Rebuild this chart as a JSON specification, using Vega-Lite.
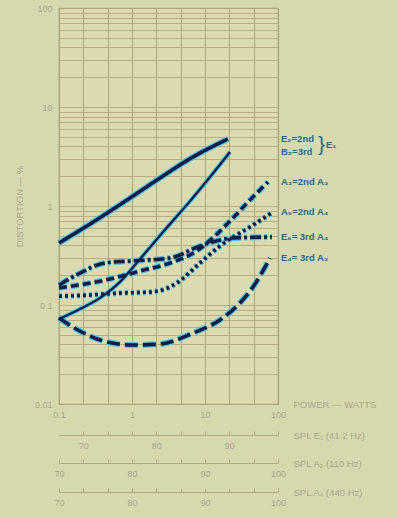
{
  "$schema": "https://vega.github.io/schema/vega-lite/v6.json",
  "width": 219,
  "height": 396,
  "autosize": {"type": "none"},
  "padding": {"left": 59, "top": 8, "right": 119, "bottom": 114},
  "background": "#d6d9ad",
  "config": {
    "view": {"fill": "#dcdbb0", "stroke": "#a29f74", "strokeWidth": 1.2},
    "font": "Liberation Sans"
  },
  "datasets": {
    "curves": [
      {"series": "E₂=2nd", "watts": 0.1, "pct": 0.423},
      {"series": "E₂=2nd", "watts": 0.266, "pct": 0.658},
      {"series": "E₂=2nd", "watts": 0.855, "pct": 1.15},
      {"series": "E₂=2nd", "watts": 2.42, "pct": 1.92},
      {"series": "E₂=2nd", "watts": 6.85, "pct": 3.13},
      {"series": "E₂=2nd", "watts": 20.6, "pct": 4.75},
      {"series": "B₂=3rd", "watts": 0.1, "pct": 0.072},
      {"series": "B₂=3rd", "watts": 0.194, "pct": 0.091},
      {"series": "B₂=3rd", "watts": 0.365, "pct": 0.118},
      {"series": "B₂=3rd", "watts": 0.686, "pct": 0.171},
      {"series": "B₂=3rd", "watts": 1.29, "pct": 0.292},
      {"series": "B₂=3rd", "watts": 2.66, "pct": 0.546},
      {"series": "B₂=3rd", "watts": 6.24, "pct": 1.12},
      {"series": "B₂=3rd", "watts": 11.7, "pct": 1.96},
      {"series": "B₂=3rd", "watts": 22.0, "pct": 3.51},
      {"series": "A₃=2nd A₃", "watts": 0.1, "pct": 0.149},
      {"series": "A₃=2nd A₃", "watts": 0.227, "pct": 0.163},
      {"series": "A₃=2nd A₃", "watts": 0.5, "pct": 0.183},
      {"series": "A₃=2nd A₃", "watts": 1.29, "pct": 0.22},
      {"series": "A₃=2nd A₃", "watts": 3.32, "pct": 0.266},
      {"series": "A₃=2nd A₃", "watts": 7.29, "pct": 0.343},
      {"series": "A₃=2nd A₃", "watts": 13.7, "pct": 0.498},
      {"series": "A₃=2nd A₃", "watts": 24.2, "pct": 0.757},
      {"series": "A₃=2nd A₃", "watts": 41.3, "pct": 1.15},
      {"series": "A₃=2nd A₃", "watts": 72.9, "pct": 1.75},
      {"series": "A₅=2nd A₄", "watts": 0.1, "pct": 0.123},
      {"series": "A₅=2nd A₄", "watts": 0.266, "pct": 0.126},
      {"series": "A₅=2nd A₄", "watts": 0.686, "pct": 0.132},
      {"series": "A₅=2nd A₄", "watts": 1.77, "pct": 0.135},
      {"series": "A₅=2nd A₄", "watts": 2.83, "pct": 0.145},
      {"series": "A₅=2nd A₄", "watts": 4.13, "pct": 0.167},
      {"series": "A₅=2nd A₄", "watts": 8.55, "pct": 0.266},
      {"series": "A₅=2nd A₄", "watts": 16.0, "pct": 0.394},
      {"series": "A₅=2nd A₄", "watts": 41.3, "pct": 0.614},
      {"series": "A₅=2nd A₄", "watts": 85.5, "pct": 0.869},
      {"series": "E₆= 3rd A₄", "watts": 0.1, "pct": 0.159},
      {"series": "E₆= 3rd A₄", "watts": 0.194, "pct": 0.21},
      {"series": "E₆= 3rd A₄", "watts": 0.427, "pct": 0.266},
      {"series": "E₆= 3rd A₄", "watts": 0.94, "pct": 0.278},
      {"series": "E₆= 3rd A₄", "watts": 3.32, "pct": 0.298},
      {"series": "E₆= 3rd A₄", "watts": 8.55, "pct": 0.394},
      {"series": "E₆= 3rd A₄", "watts": 24.2, "pct": 0.475},
      {"series": "E₆= 3rd A₄", "watts": 82.8, "pct": 0.486},
      {"series": "E₄= 3rd A₂", "watts": 0.1, "pct": 0.074},
      {"series": "E₄= 3rd A₂", "watts": 0.182, "pct": 0.0559},
      {"series": "E₄= 3rd A₂", "watts": 0.365, "pct": 0.0443},
      {"series": "E₄= 3rd A₂", "watts": 1.03, "pct": 0.0394},
      {"series": "E₄= 3rd A₂", "watts": 2.42, "pct": 0.0403},
      {"series": "E₄= 3rd A₂", "watts": 6.85, "pct": 0.0521},
      {"series": "E₄= 3rd A₂", "watts": 16.0, "pct": 0.0705},
      {"series": "E₄= 3rd A₂", "watts": 30.1, "pct": 0.105},
      {"series": "E₄= 3rd A₂", "watts": 45.5, "pct": 0.152},
      {"series": "E₄= 3rd A₂", "watts": 77.6, "pct": 0.298}
    ],
    "splE1": [{"spl": 70}, {"spl": 90}],
    "splA2": [{"spl": 70}, {"spl": 100}],
    "splA4": [{"spl": 70}, {"spl": 100}]
  },
  "layer": [
    {
      "data": {"name": "curves"},
      "encoding": {
        "x": {
          "field": "watts", "type": "quantitative",
          "scale": {"type": "log", "domain": [0.1, 100], "nice": false},
          "axis": {
            "orient": "bottom",
            "values": [0.1, 0.2154, 0.4642, 1, 2.154, 4.642, 10, 21.54, 46.42, 100],
            "labelExpr": "datum.value == 0.1 ? '0.1' : datum.value == 1 ? '1' : datum.value == 10 ? '10' : datum.value == 100 ? '100' : ''",
            "labelOverlap": false, "labelFlush": false,
            "grid": true, "gridColor": "#a8a57a", "gridOpacity": 0.9, "gridWidth": 1.1,
            "ticks": false, "domain": false,
            "labelPadding": 6, "labelFontSize": 9, "labelColor": "#a9a691",
            "title": "POWER — WATTS", "titleX": 234, "titleY": 0,
            "titleAlign": "left", "titleBaseline": "middle", "titleAngle": 0,
            "titleFontSize": 9.5, "titleFontWeight": "normal", "titleColor": "#a9a691"
          }
        },
        "y": {
          "field": "pct", "type": "quantitative",
          "scale": {"type": "log", "domain": [0.01, 100], "nice": false},
          "axis": {
            "orient": "left",
            "values": [0.01, 0.02, 0.03, 0.04, 0.05, 0.06, 0.07, 0.08, 0.09, 0.1, 0.2, 0.3, 0.4, 0.5, 0.6, 0.7, 0.8, 0.9, 1, 2, 3, 4, 5, 6, 7, 8, 9, 10, 20, 30, 40, 50, 60, 70, 80, 90, 100],
            "labelExpr": "datum.value == 0.01 ? '0.01' : datum.value == 0.1 ? '0.1' : datum.value == 1 ? '1' : datum.value == 10 ? '10' : datum.value == 100 ? '100' : ''",
            "labelOverlap": false, "labelFlush": false,
            "grid": true, "gridColor": "#b2a67c", "gridOpacity": 0.85, "gridWidth": 1,
            "ticks": false, "domain": false,
            "labelPadding": 7, "labelFontSize": 9, "labelColor": "#a9a691",
            "title": "DISTORTION — %", "titleX": -40, "titleY": 198, "titleAngle": -90,
            "titleAlign": "center", "titleBaseline": "middle",
            "titleFontSize": 9.5, "titleFontWeight": "normal", "titleColor": "#a9a691"
          }
        }
      },
      "layer": [
        {
          "transform": [{"filter": "datum.series != 'B₂=3rd'"}],
          "mark": {"type": "line", "interpolate": "monotone", "stroke": "#52c4e2", "strokeWidth": 6, "strokeCap": "butt"},
          "encoding": {
            "strokeDash": {
              "field": "series", "type": "nominal", "legend": null,
              "scale": {"domain": ["E₂=2nd", "A₃=2nd A₃", "A₅=2nd A₄", "E₆= 3rd A₄", "E₄= 3rd A₂"], "range": [[1, 0], [8, 4], [3, 3], [11, 3, 3, 3], [13, 5]]}
            }
          }
        },
        {
          "transform": [{"filter": "datum.series == 'B₂=3rd'"}],
          "mark": {"type": "line", "interpolate": "monotone", "stroke": "#52c4e2", "strokeWidth": 4.5, "strokeCap": "butt"},
          "encoding": {}
        },
        {
          "transform": [{"filter": "datum.series != 'B₂=3rd'"}],
          "mark": {"type": "line", "interpolate": "monotone", "stroke": "#0c1d47", "strokeWidth": 3.6, "strokeCap": "butt"},
          "encoding": {
            "strokeDash": {
              "field": "series", "type": "nominal", "legend": null,
              "scale": {"domain": ["E₂=2nd", "A₃=2nd A₃", "A₅=2nd A₄", "E₆= 3rd A₄", "E₄= 3rd A₂"], "range": [[1, 0], [8, 4], [3, 3], [11, 3, 3, 3], [13, 5]]}
            }
          }
        },
        {
          "transform": [{"filter": "datum.series == 'B₂=3rd'"}],
          "mark": {"type": "line", "interpolate": "monotone", "stroke": "#0c1d47", "strokeWidth": 2.3, "strokeCap": "butt"},
          "encoding": {}
        },
        {
          "transform": [
            {"joinaggregate": [{"op": "max", "field": "watts", "as": "maxw"}], "groupby": ["series"]},
            {"filter": "datum.watts == datum.maxw"}
          ],
          "mark": {"type": "text", "align": "left", "baseline": "middle", "dx": 3, "font": "Liberation Sans", "fontWeight": "bold", "fontSize": 9.5, "fill": "#1d6b90"},
          "encoding": {
            "x": {"datum": 100, "type": "quantitative"},
            "text": {"field": "series"}
          }
        },
        {
          "transform": [
            {"joinaggregate": [{"op": "max", "field": "watts", "as": "maxw"}], "groupby": ["series"]},
            {"filter": "datum.watts == datum.maxw"},
            {"filter": "datum.series == 'E₂=2nd' || datum.series == 'B₂=3rd'"},
            {"joinaggregate": [{"op": "mean", "field": "pct", "as": "mp"}]},
            {"filter": "datum.series == 'E₂=2nd'"}
          ],
          "mark": {"type": "text", "align": "left", "baseline": "middle", "dx": 40, "font": "Liberation Sans", "fontWeight": "normal", "fontSize": 21, "fill": "#1d6b90"},
          "encoding": {
            "x": {"datum": 100, "type": "quantitative"},
            "y": {"field": "mp", "type": "quantitative"},
            "text": {"value": "}"}
          }
        },
        {
          "transform": [
            {"joinaggregate": [{"op": "max", "field": "watts", "as": "maxw"}], "groupby": ["series"]},
            {"filter": "datum.watts == datum.maxw"},
            {"filter": "datum.series == 'E₂=2nd' || datum.series == 'B₂=3rd'"},
            {"joinaggregate": [{"op": "mean", "field": "pct", "as": "mp"}]},
            {"filter": "datum.series == 'E₂=2nd'"}
          ],
          "mark": {"type": "text", "align": "left", "baseline": "middle", "dx": 48, "font": "Liberation Sans", "fontWeight": "bold", "fontSize": 9.5, "fill": "#1d6b90"},
          "encoding": {
            "x": {"datum": 100, "type": "quantitative"},
            "y": {"field": "mp", "type": "quantitative"},
            "text": {"value": "E₁"}
          }
        }
      ]
    },
    {
      "data": {"name": "splE1"},
      "mark": {"type": "rule", "opacity": 0},
      "encoding": {
        "x": {
          "field": "spl", "type": "quantitative",
          "scale": {"domain": [66.67, 96.67], "nice": false, "zero": false},
          "axis": {
            "orient": "bottom", "offset": 31,
            "values": [70, 73.33, 76.67, 80, 83.33, 86.67, 90, 93.33, 96.67],
            "labelExpr": "datum.value % 10 == 0 ? datum.label : ''",
            "labelOverlap": false, "labelFlush": false, "grid": false,
            "domainColor": "#b0ab82", "tickColor": "#b0ab82", "tickSize": -4,
            "labelPadding": 10, "labelFontSize": 9, "labelColor": "#a9a691",
            "title": "SPL E₁ (41.2 Hz)", "titleX": 234, "titleY": 0,
            "titleAlign": "left", "titleBaseline": "middle", "titleAngle": 0,
            "titleFontSize": 9.5, "titleFontWeight": "normal", "titleColor": "#a9a691"
          }
        }
      }
    },
    {
      "data": {"name": "splA2"},
      "mark": {"type": "rule", "opacity": 0},
      "encoding": {
        "x": {
          "field": "spl", "type": "quantitative",
          "scale": {"domain": [70, 100], "nice": false, "zero": false},
          "axis": {
            "orient": "bottom", "offset": 59,
            "values": [70, 73.33, 76.67, 80, 83.33, 86.67, 90, 93.33, 96.67, 100],
            "labelExpr": "datum.value % 10 == 0 ? datum.label : ''",
            "labelOverlap": false, "labelFlush": false, "grid": false,
            "domainColor": "#b0ab82", "tickColor": "#b0ab82", "tickSize": -4,
            "labelPadding": 10, "labelFontSize": 9, "labelColor": "#a9a691",
            "title": "SPL A₂ (110 Hz)", "titleX": 234, "titleY": 0,
            "titleAlign": "left", "titleBaseline": "middle", "titleAngle": 0,
            "titleFontSize": 9.5, "titleFontWeight": "normal", "titleColor": "#a9a691"
          }
        }
      }
    },
    {
      "data": {"name": "splA4"},
      "mark": {"type": "rule", "opacity": 0},
      "encoding": {
        "x": {
          "field": "spl", "type": "quantitative",
          "scale": {"domain": [70, 100], "nice": false, "zero": false},
          "axis": {
            "orient": "bottom", "offset": 88,
            "values": [70, 73.33, 76.67, 80, 83.33, 86.67, 90, 93.33, 96.67, 100],
            "labelExpr": "datum.value % 10 == 0 ? datum.label : ''",
            "labelOverlap": false, "labelFlush": false, "grid": false,
            "domainColor": "#b0ab82", "tickColor": "#b0ab82", "tickSize": -4,
            "labelPadding": 10, "labelFontSize": 9, "labelColor": "#a9a691",
            "title": "SPL A₄ (440 Hz)", "titleX": 234, "titleY": 0,
            "titleAlign": "left", "titleBaseline": "middle", "titleAngle": 0,
            "titleFontSize": 9.5, "titleFontWeight": "normal", "titleColor": "#a9a691"
          }
        }
      }
    }
  ],
  "resolve": {"scale": {"x": "independent"}, "axis": {"x": "independent"}}
}
